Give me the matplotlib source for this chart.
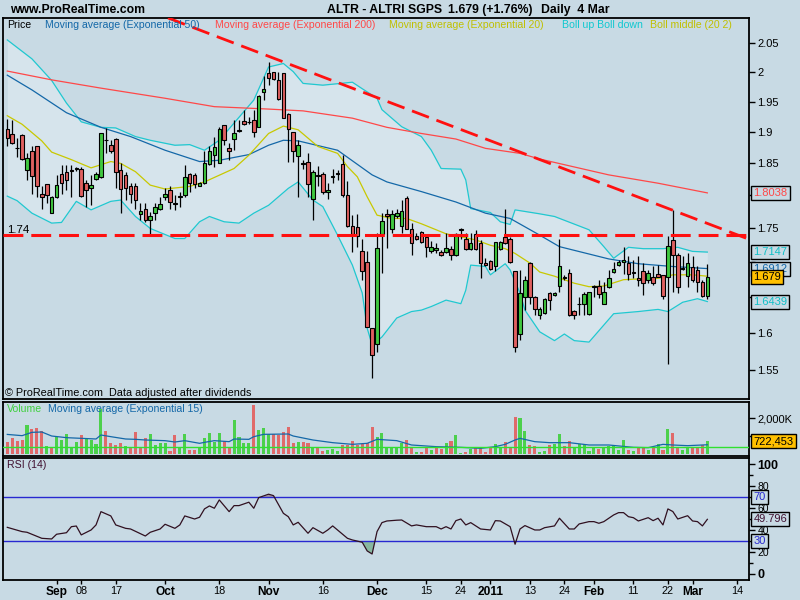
import numpy as np
import pandas as pd
import matplotlib
matplotlib.use('Agg')
import matplotlib.pyplot as plt
import matplotlib.transforms as mtransforms
from matplotlib.ticker import NullLocator

plt.rcParams['font.family'] = ['Liberation Sans', 'DejaVu Sans']

# ---------------- data ----------------
start_date = '2010-08-18'
end_date = '2011-03-04'

opens = [1.905, 1.897, 1.875, 1.896, 1.839, 1.869, 1.877, 1.803, 1.817, 1.774,
         1.797, 1.833, 1.836, 1.840, 1.842, 1.842, 1.819, 1.811, 1.826, 1.828,
         1.888, 1.879, 1.889, 1.839, 1.832, 1.815, 1.815, 1.772, 1.780, 1.763,
         1.774, 1.779, 1.797, 1.808, 1.788, 1.798, 1.800, 1.833, 1.832, 1.815,
         1.819, 1.849, 1.863, 1.851, 1.911, 1.874, 1.889, 1.902, 1.918, 1.917,
         1.920, 1.909, 1.966, 1.998, 2.000, 1.986, 1.998, 1.930, 1.900, 1.862,
         1.849, 1.852, 1.794, 1.832, 1.834, 1.805, 1.829, 1.835, 1.849, 1.801,
         1.754, 1.752, 1.716, 1.700, 1.607, 1.585, 1.741, 1.772, 1.749, 1.768,
         1.753, 1.796, 1.749, 1.739, 1.745, 1.737, 1.717, 1.718, 1.715, 1.715,
         1.720, 1.710, 1.749, 1.735, 1.719, 1.741, 1.729, 1.699, 1.702, 1.695,
         1.719, 1.737, 1.735, 1.688, 1.599, 1.650, 1.699, 1.650, 1.625, 1.628,
         1.656, 1.653, 1.666, 1.679, 1.685, 1.631, 1.640, 1.641, 1.626, 1.665,
         1.666, 1.641, 1.664, 1.686, 1.696, 1.700, 1.699, 1.686, 1.678, 1.687,
         1.674, 1.679, 1.683, 1.682, 1.679, 1.733, 1.711, 1.691, 1.680, 1.693,
         1.689, 1.671, 1.652]
highs = [1.921, 1.920, 1.890, 1.897, 1.866, 1.877, 1.878, 1.814, 1.818, 1.799,
         1.832, 1.848, 1.847, 1.848, 1.845, 1.845, 1.824, 1.832, 1.837, 1.899,
         1.907, 1.887, 1.890, 1.851, 1.837, 1.819, 1.819, 1.788, 1.788, 1.775,
         1.788, 1.798, 1.811, 1.814, 1.800, 1.806, 1.848, 1.835, 1.835, 1.821,
         1.869, 1.877, 1.893, 1.908, 1.912, 1.882, 1.920, 1.920, 1.937, 1.925,
         1.937, 1.961, 1.994, 2.018, 2.001, 2.001, 1.999, 1.931, 1.900, 1.887,
         1.856, 1.866, 1.840, 1.846, 1.836, 1.820, 1.841, 1.840, 1.863, 1.822,
         1.770, 1.772, 1.734, 1.716, 1.607, 1.743, 1.773, 1.780, 1.778, 1.780,
         1.793, 1.799, 1.758, 1.743, 1.746, 1.740, 1.731, 1.729, 1.718, 1.743,
         1.724, 1.743, 1.750, 1.743, 1.743, 1.748, 1.733, 1.706, 1.703, 1.730,
         1.731, 1.780, 1.737, 1.688, 1.689, 1.681, 1.701, 1.652, 1.636, 1.649,
         1.658, 1.657, 1.734, 1.682, 1.691, 1.632, 1.651, 1.658, 1.658, 1.667,
         1.675, 1.672, 1.689, 1.701, 1.703, 1.723, 1.709, 1.703, 1.709, 1.699,
         1.689, 1.694, 1.696, 1.682, 1.739, 1.778, 1.714, 1.709, 1.713, 1.709,
         1.694, 1.675, 1.698]
lows = [1.878, 1.881, 1.861, 1.855, 1.824, 1.803, 1.798, 1.780, 1.788, 1.773,
        1.796, 1.803, 1.808, 1.798, 1.838, 1.798, 1.783, 1.786, 1.824, 1.827,
        1.867, 1.867, 1.812, 1.773, 1.793, 1.788, 1.780, 1.763, 1.760, 1.740,
        1.763, 1.778, 1.793, 1.780, 1.778, 1.783, 1.798, 1.806, 1.811, 1.814,
        1.818, 1.848, 1.845, 1.851, 1.879, 1.856, 1.871, 1.901, 1.911, 1.914,
        1.892, 1.908, 1.953, 1.978, 1.987, 1.953, 1.923, 1.853, 1.853, 1.798,
        1.842, 1.798, 1.763, 1.814, 1.803, 1.794, 1.819, 1.824, 1.798, 1.752,
        1.715, 1.723, 1.675, 1.609, 1.540, 1.574, 1.685, 1.721, 1.743, 1.765,
        1.743, 1.749, 1.710, 1.733, 1.729, 1.708, 1.714, 1.714, 1.709, 1.714,
        1.703, 1.709, 1.735, 1.718, 1.718, 1.718, 1.678, 1.694, 1.689, 1.688,
        1.718, 1.727, 1.699, 1.574, 1.591, 1.632, 1.640, 1.625, 1.620, 1.627,
        1.632, 1.652, 1.658, 1.675, 1.624, 1.619, 1.625, 1.625, 1.625, 1.651,
        1.649, 1.640, 1.663, 1.685, 1.694, 1.683, 1.675, 1.677, 1.666, 1.653,
        1.670, 1.667, 1.679, 1.647, 1.559, 1.657, 1.656, 1.689, 1.665, 1.671,
        1.658, 1.651, 1.647]
closes = [1.890, 1.883, 1.874, 1.857, 1.858, 1.831, 1.814, 1.798, 1.800, 1.798,
          1.816, 1.819, 1.824, 1.838, 1.843, 1.799, 1.809, 1.816, 1.833, 1.898,
          1.887, 1.870, 1.837, 1.810, 1.811, 1.803, 1.793, 1.777, 1.763, 1.768,
          1.783, 1.787, 1.803, 1.790, 1.787, 1.799, 1.828, 1.819, 1.818, 1.820,
          1.851, 1.869, 1.876, 1.905, 1.887, 1.870, 1.898, 1.903, 1.913, 1.917,
          1.901, 1.959, 1.971, 1.990, 1.988, 1.954, 1.924, 1.905, 1.869, 1.879,
          1.850, 1.817, 1.837, 1.831, 1.805, 1.809, 1.830, 1.834, 1.800, 1.753,
          1.741, 1.739, 1.688, 1.609, 1.570, 1.721, 1.761, 1.768, 1.772, 1.774,
          1.776, 1.749, 1.729, 1.735, 1.730, 1.723, 1.723, 1.721, 1.710, 1.721,
          1.710, 1.742, 1.748, 1.719, 1.729, 1.719, 1.699, 1.696, 1.691, 1.730,
          1.730, 1.728, 1.700, 1.581, 1.656, 1.675, 1.650, 1.634, 1.634, 1.648,
          1.646, 1.656, 1.694, 1.677, 1.625, 1.625, 1.641, 1.654, 1.657, 1.665,
          1.654, 1.658, 1.677, 1.691, 1.700, 1.703, 1.683, 1.685, 1.675, 1.670,
          1.685, 1.670, 1.679, 1.652, 1.724, 1.711, 1.665, 1.692, 1.699, 1.675,
          1.671, 1.652, 1.679]

volumes_k = [693, 918, 730, 787, 1630, 1405, 1461, 1274, 450, 412,
             937, 787, 1124, 412, 693, 1068, 824, 787, 562, 2510,
             1292, 637, 506, 600, 450, 412, 1255, 318, 918, 1124,
             506, 600, 600, 169, 1068, 412, 1105, 225, 225, 356,
             918, 1199, 693, 1199, 749, 412, 1910, 937, 637, 600,
             2753, 1349, 1480, 1105, 1105, 1068, 1255, 1517, 637, 693,
             693, 637, 412, 412, 169, 225, 281, 169, 506, 506,
             749, 506, 543, 600, 1498, 937, 1161, 412, 318, 412,
             600, 787, 412, 131, 94, 412, 225, 356, 281, 637,
             730, 1068, 80, 131, 281, 412, 318, 131, 318, 543,
             412, 693, 412, 2098, 2004, 1292, 506, 468, 131, 187,
             506, 562, 1105, 450, 730, 412, 562, 506, 187, 412,
             281, 356, 468, 468, 225, 787, 225, 187, 318, 318,
             225, 356, 543, 225, 1405, 1161, 318, 225, 318, 318,
             318, 506, 722]

# moving averages read at sampled sessions (session number, value)
ema200_idx = [0, 9, 19, 32, 42, 53, 60, 70, 77, 84, 91, 97, 104, 108, 122, 132, 142]
ema200_val = [2.002, 1.987, 1.973, 1.956, 1.942, 1.938, 1.935, 1.923, 1.908, 1.898,
              1.889, 1.874, 1.866, 1.857, 1.832, 1.819, 1.804]
ema50_idx = [0, 5, 12, 19, 25, 32, 39, 43, 49, 53, 56, 59, 67, 74, 77, 84, 91, 97,
             102, 108, 112, 122, 128, 135, 142]
ema50_val = [1.995, 1.970, 1.932, 1.908, 1.893, 1.871, 1.853, 1.855, 1.864, 1.879,
             1.887, 1.886, 1.871, 1.832, 1.821, 1.806, 1.790, 1.773, 1.765, 1.740,
             1.723, 1.705, 1.698, 1.694, 1.691]
ema20_idx = [0, 3, 7, 9, 13, 17, 21, 23, 26, 29, 32, 37, 40, 46, 49, 53, 56, 59, 63,
             67, 69, 71, 73, 75, 78, 81, 84, 89, 95, 98, 101, 103, 106, 108, 111,
             115, 118, 121, 125, 128, 132, 135, 139, 142]
ema20_val = [1.927, 1.913, 1.886, 1.868, 1.856, 1.843, 1.853, 1.850, 1.837, 1.816,
             1.810, 1.814, 1.821, 1.842, 1.863, 1.898, 1.910, 1.904, 1.877, 1.866,
             1.845, 1.829, 1.798, 1.770, 1.765, 1.765, 1.757, 1.742, 1.733, 1.725,
             1.720, 1.713, 1.699, 1.686, 1.680, 1.670, 1.665, 1.666, 1.675, 1.676,
             1.677, 1.682, 1.682, 1.680]
boll_up_idx = [0, 5, 9, 12, 15, 19, 22, 26, 29, 34, 37, 40, 43, 46, 50, 53, 56, 58,
               60, 64, 70, 72, 75, 76, 80, 84, 86, 88, 92, 93, 94, 98, 100, 102,
               103, 108, 111, 118, 121, 123, 126, 129, 133, 136, 139, 142]
boll_up_val = [2.056, 2.023, 1.986, 1.948, 1.917, 1.908, 1.907, 1.893, 1.887, 1.879,
               1.880, 1.871, 1.887, 1.915, 1.953, 2.009, 2.015, 2.001, 1.981, 1.978,
               1.983, 1.972, 1.956, 1.937, 1.909, 1.893, 1.871, 1.842, 1.841, 1.824,
               1.780, 1.774, 1.760, 1.756, 1.778, 1.772, 1.768, 1.748, 1.723, 1.706,
               1.722, 1.720, 1.720, 1.722, 1.716, 1.715]
boll_dn_idx = [0, 2, 5, 9, 11, 14, 17, 21, 23, 26, 29, 34, 36, 39, 41, 44, 47, 50,
               53, 57, 59, 62, 64, 67, 70, 72, 73, 74, 76, 79, 82, 84, 86, 89, 92,
               93, 94, 97, 98, 101, 102, 104, 105, 108, 111, 113, 115, 118, 123,
               128, 132, 134, 137, 140, 142]
boll_dn_val = [1.799, 1.792, 1.773, 1.758, 1.759, 1.791, 1.778, 1.791, 1.793, 1.768,
               1.750, 1.735, 1.735, 1.760, 1.768, 1.760, 1.758, 1.773, 1.785, 1.811,
               1.821, 1.793, 1.783, 1.740, 1.696, 1.656, 1.607, 1.584, 1.595, 1.621,
               1.630, 1.632, 1.637, 1.646, 1.641, 1.660, 1.696, 1.694, 1.682, 1.698,
               1.689, 1.656, 1.632, 1.602, 1.590, 1.599, 1.590, 1.588, 1.627, 1.630,
               1.633, 1.630, 1.643, 1.648, 1.644]

vol_ma_idx = [0, 3, 5, 7, 9, 12, 15, 18, 19, 21, 24, 26, 28, 32, 34, 36, 39, 40, 42,
              45, 46, 49, 50, 52, 57, 58, 62, 66, 70, 73, 75, 79, 82, 87, 92, 96,
              99, 101, 103, 104, 107, 110, 114, 118, 122, 127, 130, 133, 135, 138,
              141, 142]
vol_ma_val = [1100, 1030, 1217, 1236, 1011, 918, 880, 843, 1068, 974, 843, 824, 787,
              749, 674, 749, 600, 655, 749, 693, 843, 824, 974, 1105, 1124, 1011,
              787, 637, 543, 600, 824, 750, 506, 412, 375, 318, 412, 543, 787, 880,
              693, 637, 637, 506, 506, 375, 356, 543, 506, 468, 506, 520]
vol_ref_level_k = 420

rsi_idx = [0, 3, 4, 7, 9, 10, 12, 13, 14, 15, 17, 18, 19, 21, 22, 24, 25, 28, 29,
           31, 32, 34, 35, 36, 38, 39, 40, 41, 42, 43, 45, 46, 47, 49, 50, 51, 53,
           54, 56, 57, 58, 59, 61, 62, 64, 65, 66, 69, 70, 72, 73, 74, 75, 76, 77,
           79, 80, 82, 83, 85, 87, 88, 89, 90, 91, 92, 93, 94, 96, 98, 99, 100,
           102, 103, 104, 105, 107, 108, 109, 111, 112, 114, 115, 116, 118, 119,
           120, 121, 123, 124, 125, 126, 127, 128, 130, 131, 132, 133, 134, 135,
           136, 138, 139, 140, 141, 142]
rsi_val = [42.5, 38.6, 38.0, 32.5, 31.9, 36.2, 37.6, 43.1, 43.7, 35.6, 40.1, 44.7,
           56.8, 52.9, 44.7, 41.6, 41.0, 34.6, 38.0, 41.0, 45.3, 41.6, 44.7, 52.9,
           50.1, 51.7, 59.3, 62.0, 59.9, 67.5, 56.8, 62.3, 62.3, 65.4, 59.9, 69.6,
           72.7, 71.4, 55.3, 52.2, 44.7, 47.1, 37.1, 42.2, 37.1, 40.1, 43.8, 32.5,
           31.0, 28.9, 21.0, 18.2, 38.6, 46.8, 48.3, 49.0, 49.2, 43.8, 44.7, 43.1,
           43.1, 41.0, 43.1, 41.0, 48.6, 50.1, 44.7, 46.8, 41.0, 40.1, 48.6, 48.3,
           43.1, 27.1, 41.0, 44.1, 40.1, 40.1, 42.2, 43.8, 50.8, 41.0, 41.0, 45.6,
           47.7, 47.7, 46.2, 47.7, 53.8, 55.9, 55.9, 52.2, 51.3, 48.3, 51.3, 48.6,
           50.8, 44.7, 59.3, 56.9, 50.1, 53.1, 48.3, 47.7, 43.8, 49.8]

support_level = 1.74
trend_x = [32.6, 150.4]
trend_y = [2.095, 1.734]

price_ticks = [1.55, 1.6, 1.65, 1.7, 1.75, 1.8, 1.85, 1.9, 1.95, 2.0, 2.05]
# 1.65, 1.7 and 1.8 sit under the value boxes, so they show no text
price_tick_labels = ['1.55', '1.6', '', '', '1.75', '', '1.85', '1.9',
                     '1.95', '2', '2.05']
date_ticks = ['2010-09-01', '2010-09-08', '2010-09-17', '2010-10-01', '2010-10-18',
              '2010-11-01', '2010-11-16', '2010-12-01', '2010-12-15', '2010-12-24',
              '2011-01-03', '2011-01-13', '2011-01-24', '2011-02-01', '2011-02-11',
              '2011-02-22', '2011-03-01', '2011-03-14']
date_labels = ['Sep', '08', '17', 'Oct', '18', 'Nov', '16', 'Dec', '15', '24',
               '2011', '13', '24', 'Feb', '11', '22', 'Mar', '14']
date_bold = [True, False, False, True, False, True, False, True, False, False,
             True, False, False, True, False, False, True, False]

# ---------------- styling ----------------
BG = '#c8dae4'
BAND = '#d6e4ec'
RED_C = '#e06060'
GREEN_C = '#40c840'
VRED = '#e06a6a'
VGREEN = '#4cd04c'
C50 = '#1468a8'
C200 = '#ff4848'
C20 = '#c8c800'
CBOLL = '#20c8d0'

dates = pd.bdate_range(start_date, end_date)
n = len(dates)
x = np.arange(n)
cal = pd.bdate_range(start_date, '2011-03-31')

O = np.array(opens); H = np.array(highs); L = np.array(lows); C = np.array(closes)

fig = plt.figure(figsize=(8, 6), dpi=100, facecolor=BG)


def px_axes(x0, y0, x1, y1):
    return fig.add_axes([x0 / 800, 1 - y1 / 600, (x1 - x0) / 800, (y1 - y0) / 600])


def ftext(xp, yp, s, **kw):
    kw.setdefault('va', 'center')
    return fig.text(xp / 800, 1 - yp / 600, s, **kw)


ax1 = px_axes(3, 18, 749, 399)
ax2 = px_axes(3, 402, 749, 455.5)
ax3 = px_axes(3, 458, 749, 580)
XL = (-0.87, 150.45)
for ax in (ax1, ax2, ax3):
    ax.set_facecolor(BG)
    ax.set_xlim(*XL)
    for sp in ax.spines.values():
        sp.set_color('black')
        sp.set_linewidth(1.3)
    ax.yaxis.tick_right()
    ax.tick_params(axis='y', direction='out', length=4, width=1, pad=2,
                   labelsize=8, colors='black')
    ax.yaxis.set_minor_locator(NullLocator())

# ---- price panel ----
ax1.set_yscale('log')
ax1.set_ylim(1.5126, 2.0949)
ax1.set_yticks(price_ticks)
ax1.set_yticklabels(price_tick_labels)
ax1.yaxis.set_minor_locator(NullLocator())
ax1.set_xticks([])

up_i = np.interp(x, boll_up_idx, boll_up_val)
dn_i = np.interp(x, boll_dn_idx, boll_dn_val)
ax1.fill_between(x, dn_i, up_i, color=BAND, lw=0, zorder=1)
ax1.plot(boll_up_idx, boll_up_val, color=CBOLL, lw=0.9, zorder=2)
ax1.plot(boll_dn_idx, boll_dn_val, color=CBOLL, lw=0.9, zorder=2)
ax1.plot(ema200_idx, ema200_val, color=C200, lw=0.9, zorder=2)
ax1.plot(ema50_idx, ema50_val, color=C50, lw=0.9, zorder=2)
ax1.plot(ema20_idx, ema20_val, color=C20, lw=0.9, zorder=2)

up = C >= O
body_lo = np.minimum(O, C)
body_h = np.maximum(np.abs(C - O), 0.0004)
ax1.vlines(x, L, H, color='black', lw=0.9, zorder=3)
ax1.bar(x, body_h, bottom=body_lo, width=0.72,
        color=np.where(up, GREEN_C, RED_C), edgecolor='black', linewidth=0.8, zorder=4)

ax1.axhline(support_level, color='#ff1010', lw=2.2, dashes=(6.5, 2.6), zorder=5)
ax1.plot(trend_x, trend_y, color='#ff1010', lw=2.0, dashes=(6.5, 2.9), zorder=5,
         solid_capstyle='butt')

# ---- volume panel ----
V = np.array(volumes_k) * 1000
prevC = np.concatenate([[C[0] + 1], C[:-1]])
vup = C >= prevC
ax2.bar(x, V, width=0.62, color=np.where(vup, VGREEN, VRED), lw=0, zorder=2)
ax2.plot(vol_ma_idx, np.array(vol_ma_val) * 1000, color=C50, lw=0.9, zorder=3)
ax2.axhline(vol_ref_level_k * 1000, color='#30e030', lw=1.0, zorder=4)
ax2.set_ylim(-84e3, 2921e3)
ax2.set_yticks([1e6, 2e6])
ax2.set_yticklabels(['', '2,000K'])
ax2.set_xticks([])

# ---- RSI panel ----
R = np.array(rsi_val)
ax3.plot(rsi_idx, R, color='#301020', lw=0.9, zorder=3)
ax3.fill_between(rsi_idx, R, 70, where=R > 70, interpolate=True, color='#a8989c', lw=0, zorder=2)
ax3.fill_between(rsi_idx, R, 30, where=R < 30, interpolate=True, color='#88b8a0', lw=0, zorder=2)
ax3.axhline(70, color='#2828d0', lw=1.0, zorder=2)
ax3.axhline(30, color='#2828d0', lw=1.0, zorder=2)
ax3.set_ylim(-5.5, 105.7)
ax3.set_yticks([0, 20, 40, 60, 80, 100])
ax3.set_yticklabels(['0', '20', '40', '60', '80', '100'])
ax3.set_yticks(np.arange(0, 101, 10), minor=True)
ax3.tick_params(axis='y', which='minor', direction='out', length=3, width=1)
for lab in ax3.get_yticklabels():
    if lab.get_text() in ('0', '100'):
        lab.set_fontweight('bold')
        lab.set_fontsize(9)
    else:
        lab.set_fontsize(7.5)

tick_pos = [cal.get_loc(pd.Timestamp(d)) for d in date_ticks]
ax3.set_xticks(tick_pos)
ax3.set_xticklabels(date_labels)
ax3.tick_params(axis='x', direction='out', length=3, width=1, pad=1, labelsize=7.8)
for lab, b in zip(ax3.get_xticklabels(), date_bold):
    if b:
        lab.set_fontweight('bold')
        lab.set_fontsize(8.6)

# ---------------- texts ----------------
ftext(10, 10, 'www.ProRealTime.com', fontsize=8.8, fontweight='bold')
ftext(327, 10, 'ALTR - ALTRI SGPS', fontsize=8.8, fontweight='bold')
ftext(448, 10, '1.679 (+1.76%)', fontsize=8.8, fontweight='bold')
ftext(541, 10, 'Daily  4 Mar', fontsize=8.8, fontweight='bold')

LF = 7.6
ftext(7, 25, 'Price', fontsize=LF, color='black')
ftext(45, 25, 'Moving average (Exponential 50)', fontsize=LF, color=C50)
ftext(215, 25, 'Moving average (Exponential 200)', fontsize=LF, color=C200)
ftext(389, 25, 'Moving average (Exponential 20)', fontsize=LF, color='#c0c000')
ftext(562, 25, 'Boll up Boll down', fontsize=LF, color='#10c8d0')
ftext(650, 25, 'Boll middle (20 2)', fontsize=LF, color='#c0c000')
ftext(7, 230, '1.74', fontsize=8.2)
ftext(5, 393, '\u00a9 ProRealTime.com  Data adjusted after dividends', fontsize=7.8)
ftext(7, 409, 'Volume', fontsize=LF, color='#40d040')
ftext(48, 409, 'Moving average (Exponential 15)', fontsize=LF, color=C50)
ftext(7, 465, 'RSI (14)', fontsize=LF, color='#401030')


def rbox(ax, yv, s, tc, fc=BG):
    tr = mtransforms.blended_transform_factory(ax.transAxes, ax.transData)
    ax.text(1.006, yv, s, transform=tr, fontsize=8, color=tc, ha='left', va='center',
            bbox=dict(boxstyle='square,pad=0.18', fc=fc, ec='black', lw=1.0),
            zorder=10, clip_on=False)


rbox(ax1, ema200_val[-1], '1.8038', C200)
rbox(ax1, boll_up_val[-1], '1.7147', '#10c0c8')
rbox(ax1, ema50_val[-1] - 0.001, '1.6912', C50)
rbox(ax1, closes[-1], '1.679', 'black', fc='#ffc000')
rbox(ax1, boll_dn_val[-1], '1.6439', '#10c0c8')
rbox(ax2, volumes_k[-1] * 1000, '722,453', 'black', fc='#ffc000')
rbox(ax3, 70, '70', '#2828d0')
rbox(ax3, 30, '30', '#2828d0')
rbox(ax3, rsi_val[-1], '49.796', '#401030')

fig.savefig('out.png', dpi=100, facecolor=BG)
